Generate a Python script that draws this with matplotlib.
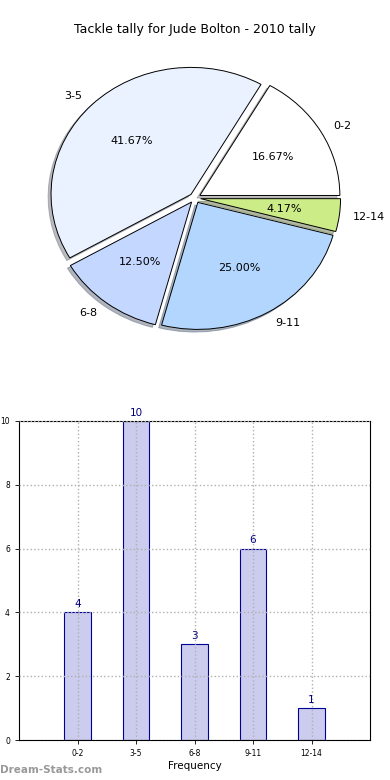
import numpy as np
import matplotlib
matplotlib.use('Agg')
import matplotlib.pyplot as plt

plt.rcParams['font.family'] = ['DejaVu Sans']

# Data
categories = ['0-2', '3-5', '6-8', '9-11', '12-14']
counts = [4, 10, 3, 6, 1]
pie_colors = ['#ffffff', '#eaf2ff', '#c4d7ff', '#b3d6ff', '#ccec88']

fig = plt.figure(figsize=(3.9, 7.8), dpi=100)

# Pie chart (slightly squashed vertically like the reference)
W, H = 390.0, 780.0
px_x, px_y = 140.0, 127.0
cx, cy = 195.0, 198.0
top, bot = 45.0, 365.0
ax1 = fig.add_axes([0, (H - bot) / H, 1, (bot - top) / H])
ax1.pie(counts, labels=categories, colors=pie_colors, autopct='%1.2f%%',
        startangle=0, counterclock=True, explode=[0.04] * 5,
        shadow=dict(ox=-0.015, oy=-0.015, shade=0.5),
        wedgeprops=dict(edgecolor='black', linewidth=0.7),
        textprops=dict(fontsize=8), labeldistance=1.1, pctdistance=0.6)
ax1.set_aspect('auto')
ax1.set_xlim(-cx / px_x, (W - cx) / px_x)
ax1.set_ylim(-(bot - cy) / px_y, (cy - top) / px_y)
fig.text(0.5, 1 - 30.0 / H, 'Tackle tally for Jude Bolton - 2010 tally',
         ha='center', va='center', fontsize=9)

# Bar chart
ax2 = fig.add_axes([19 / W, 40 / H, 351 / W, 319 / H])
x = np.arange(1, len(categories) + 1)
ax2.bar(x, counts, width=0.45, color='#ccccee', edgecolor='#000099',
        linewidth=0.8, zorder=1)
for xi, v in zip(x, counts):
    ax2.text(xi, v + 0.1, str(v), ha='center', va='bottom', fontsize=7.5,
             color='#000080')
ax2.set_xlim(0, 6)
ax2.set_ylim(0, 10)
ax2.set_xticks(x)
ax2.set_xticklabels(categories)
ax2.set_yticks(range(0, 11, 2))
ax2.tick_params(labelsize=5.5, length=3, width=0.6)
ax2.grid(True, linestyle=':', color='#b0b0b0', linewidth=1.0, zorder=2)
ax2.set_axisbelow(False)
ax2.set_xlabel('Frequency', fontsize=7.5, labelpad=2)
ax2.set_ylabel('Tackle Tally', fontsize=7.5, labelpad=8)
for s in ax2.spines.values():
    s.set_linewidth(0.8)

fig.text(0.0, 1 - 770.0 / H, 'Dream-Stats.com', ha='left', va='center',
         fontsize=7.5, color='#999999', fontweight='bold')

fig.savefig('out.png', dpi=100)
